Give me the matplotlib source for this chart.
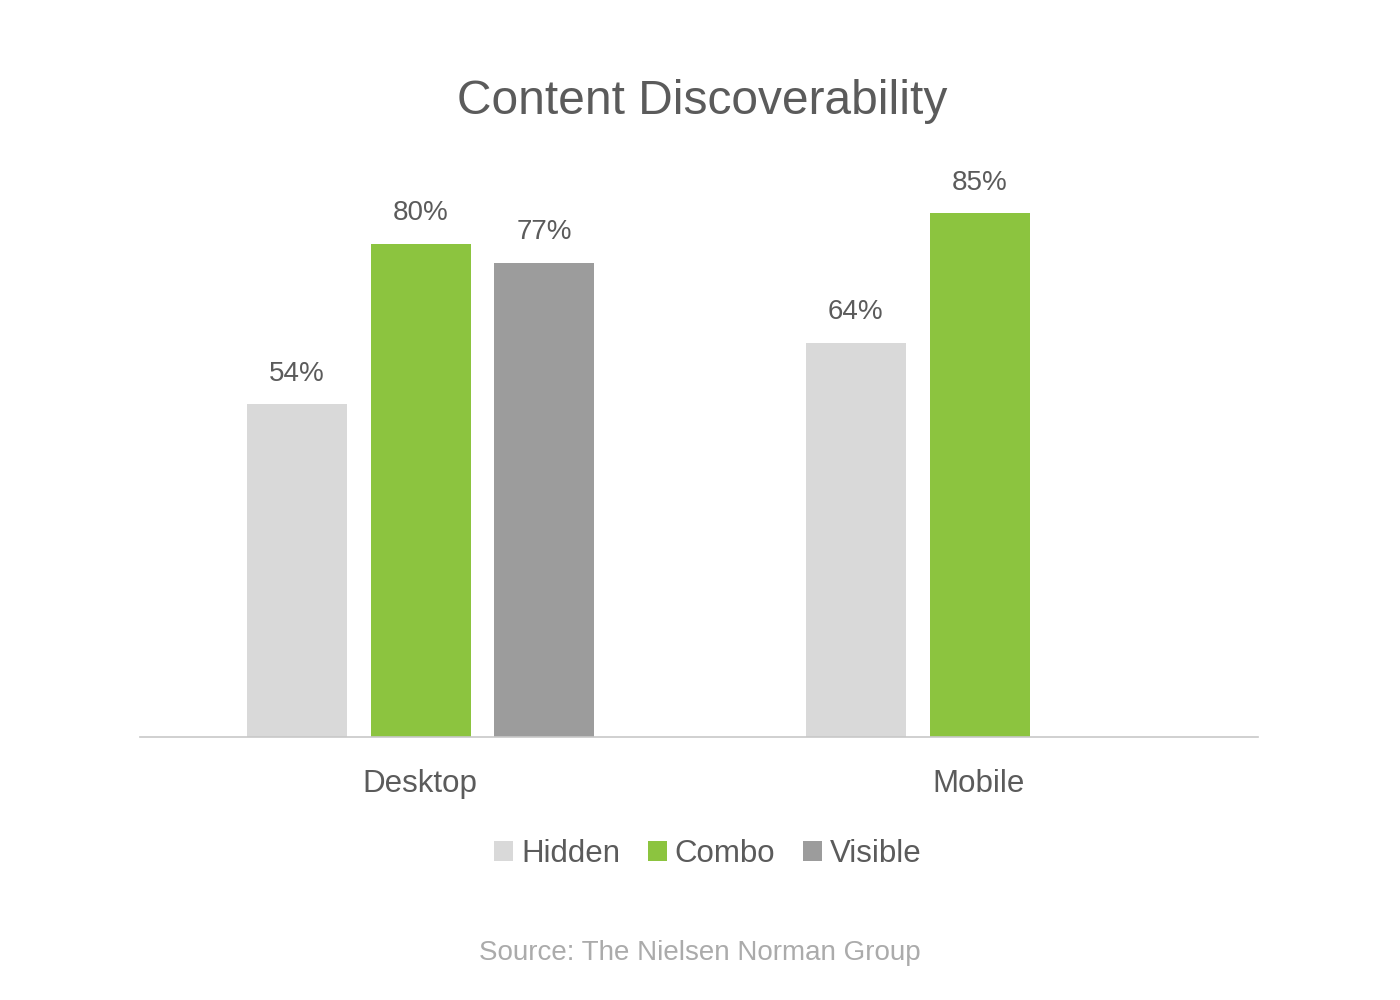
import matplotlib
matplotlib.use('Agg')
import matplotlib.pyplot as plt
from matplotlib.patches import Patch
import numpy as np

plt.rcParams['font.family'] = ['Liberation Sans', 'DejaVu Sans']

# data
groups = ['Desktop', 'Mobile']
series = ['Hidden', 'Combo', 'Visible']
hidden = [54, 64]
combo = [80, 85]
visible = [77, None]  # no visible bar for mobile
colors = ['#D9D9D9', '#8CC43F', '#9C9C9C']

text_col = '#5B5B5B'

fig = plt.figure(figsize=(14, 10), dpi=100)
ax = fig.add_axes([0.1, 0.263, 0.7986, 0.5546])

x = np.arange(len(groups))
step = 0.2214
width = 0.1786

for i, (vals, col) in enumerate(zip([hidden, combo, visible], colors)):
    for gx, v in zip(x, vals):
        if v is None:
            continue
        pos = gx + (i - 1) * step + 0.002
        ax.bar(pos, v, width=width, color=col, zorder=2)
        ax.annotate(f'{v}%', (pos, v), xytext=(0, 22), textcoords='offset points',
                    ha='center', va='center', fontsize=20, color=text_col)

ax.set_xlim(-0.5, 1.5)
ax.set_ylim(0, 90)
ax.set_xticks(x)
ax.set_xticklabels(groups, fontsize=22.5, color=text_col)
ax.tick_params(axis='x', length=0, pad=23)
ax.set_yticks([])
for s in ['top', 'right', 'left']:
    ax.spines[s].set_visible(False)
ax.spines['bottom'].set_color('#C8C8C8')
ax.spines['bottom'].set_linewidth(1.2)

fig.text(0.5015, 1 - 101 / 1000, 'Content Discoverability', ha='center', va='center',
         fontsize=34.5, color=text_col)

handles = [Patch(facecolor=c, edgecolor='none', label=s) for c, s in zip(colors, series)]
leg = fig.legend(handles=handles, loc='center', bbox_to_anchor=(708 / 1400, 1 - 854 / 1000),
                 ncol=3, frameon=False, fontsize=22.5, handlelength=0.6, handleheight=0.6,
                 handletextpad=0.25, columnspacing=0.9, borderaxespad=0)
for t in leg.get_texts():
    t.set_color(text_col)

fig.text(0.5, 1 - 953 / 1000, 'Source: The Nielsen Norman Group', ha='center', va='center',
         fontsize=20, color='#ABABAB')

fig.savefig('out.png', dpi=100)
